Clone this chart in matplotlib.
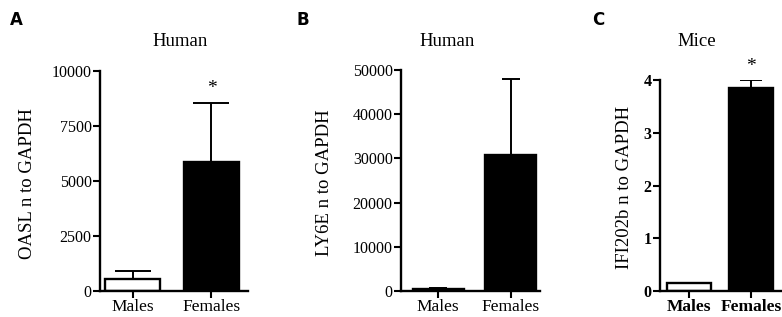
import numpy as np
import matplotlib.pyplot as plt

plt.rcParams['font.family'] = ['Liberation Serif', 'DejaVu Serif']

groups = ['Males', 'Females']

# panel A - OASL (human)
oasl_mean = [560, 5880]
oasl_err = [330, 2680]
# panel B - LY6E (human)
ly6e_mean = [500, 30700]
ly6e_err = [200, 17300]
# panel C - IFI202b (mice)
ifi_mean = [0.15, 3.85]
ifi_err = [0.0, 0.15]

W, H = 782, 317
fig = plt.figure(figsize=(W / 100, H / 100), dpi=100)


def px_axes(x0, x1, ytop, ybot=291):
    return fig.add_axes([x0 / W, 1 - ybot / H, (x1 - x0) / W, (ybot - ytop) / H])


def panel(ax, mean, err, ymax, yticks, xlim, ylabel, labx, capsize, star, bold=False):
    ax.bar([0, 1], mean, width=0.7, color=['white', 'black'],
           edgecolor='black', linewidth=1.7, zorder=2)
    for i in range(2):
        if err[i] > 0:
            ax.errorbar(i, mean[i], yerr=[[0], [err[i]]], fmt='none',
                        ecolor='black', elinewidth=1.4, capsize=capsize,
                        capthick=1.4, zorder=1)
    ax.set_xlim(*xlim)
    ax.set_ylim(0, ymax)
    ax.set_yticks(yticks)
    ax.set_xticks([0, 1])
    ax.set_xticklabels(groups)
    for s in ['top', 'right']:
        ax.spines[s].set_visible(False)
    for s in ['left', 'bottom']:
        ax.spines[s].set_linewidth(1.7)
    ax.tick_params(direction='out', length=5, width=1.5, pad=1)
    ax.tick_params(axis='y', labelsize=11.5)
    ax.tick_params(axis='x', labelsize=12.5)
    if bold:
        for t in ax.get_xticklabels() + ax.get_yticklabels():
            t.set_fontweight('bold')
    ax.set_ylabel(ylabel, fontsize=13.5)
    ax.yaxis.set_label_coords(labx, 0.49)
    if star:
        ax.text(1, mean[1] + err[1] + ymax * 0.025, '*', ha='center', va='bottom', fontsize=14)


axA = px_axes(100, 248, 71)
panel(axA, oasl_mean, oasl_err, 10000, [0, 2500, 5000, 7500, 10000], (-0.42, 1.465),
      'OASL n to GAPDH', -0.43, 13, True)

axB = px_axes(401, 540, 70)
panel(axB, ly6e_mean, ly6e_err, 50000, [0, 10000, 20000, 30000, 40000, 50000], (-0.51, 1.40),
      'LY6E n to GAPDH', -0.49, 6.5, False)

axC = px_axes(660, 781, 80)
panel(axC, ifi_mean, ifi_err, 4, [0, 1, 2, 3, 4], (-0.46, 1.48),
      'IFI202b n to GAPDH', -0.22, 8, True, bold=True)

# panel titles
for txt, x in [('Human', 180), ('Human', 447), ('Mice', 697)]:
    fig.text(x / W, 1 - 41 / H, txt, fontsize=13.5, ha='center', va='center')

for lab, x in [('A', 10), ('B', 297), ('C', 592)]:
    fig.text(x / W, 1 - 20 / H, lab, fontsize=12, fontweight='bold',
             family='DejaVu Sans', ha='left', va='center')

fig.savefig('out.png', dpi=100)
